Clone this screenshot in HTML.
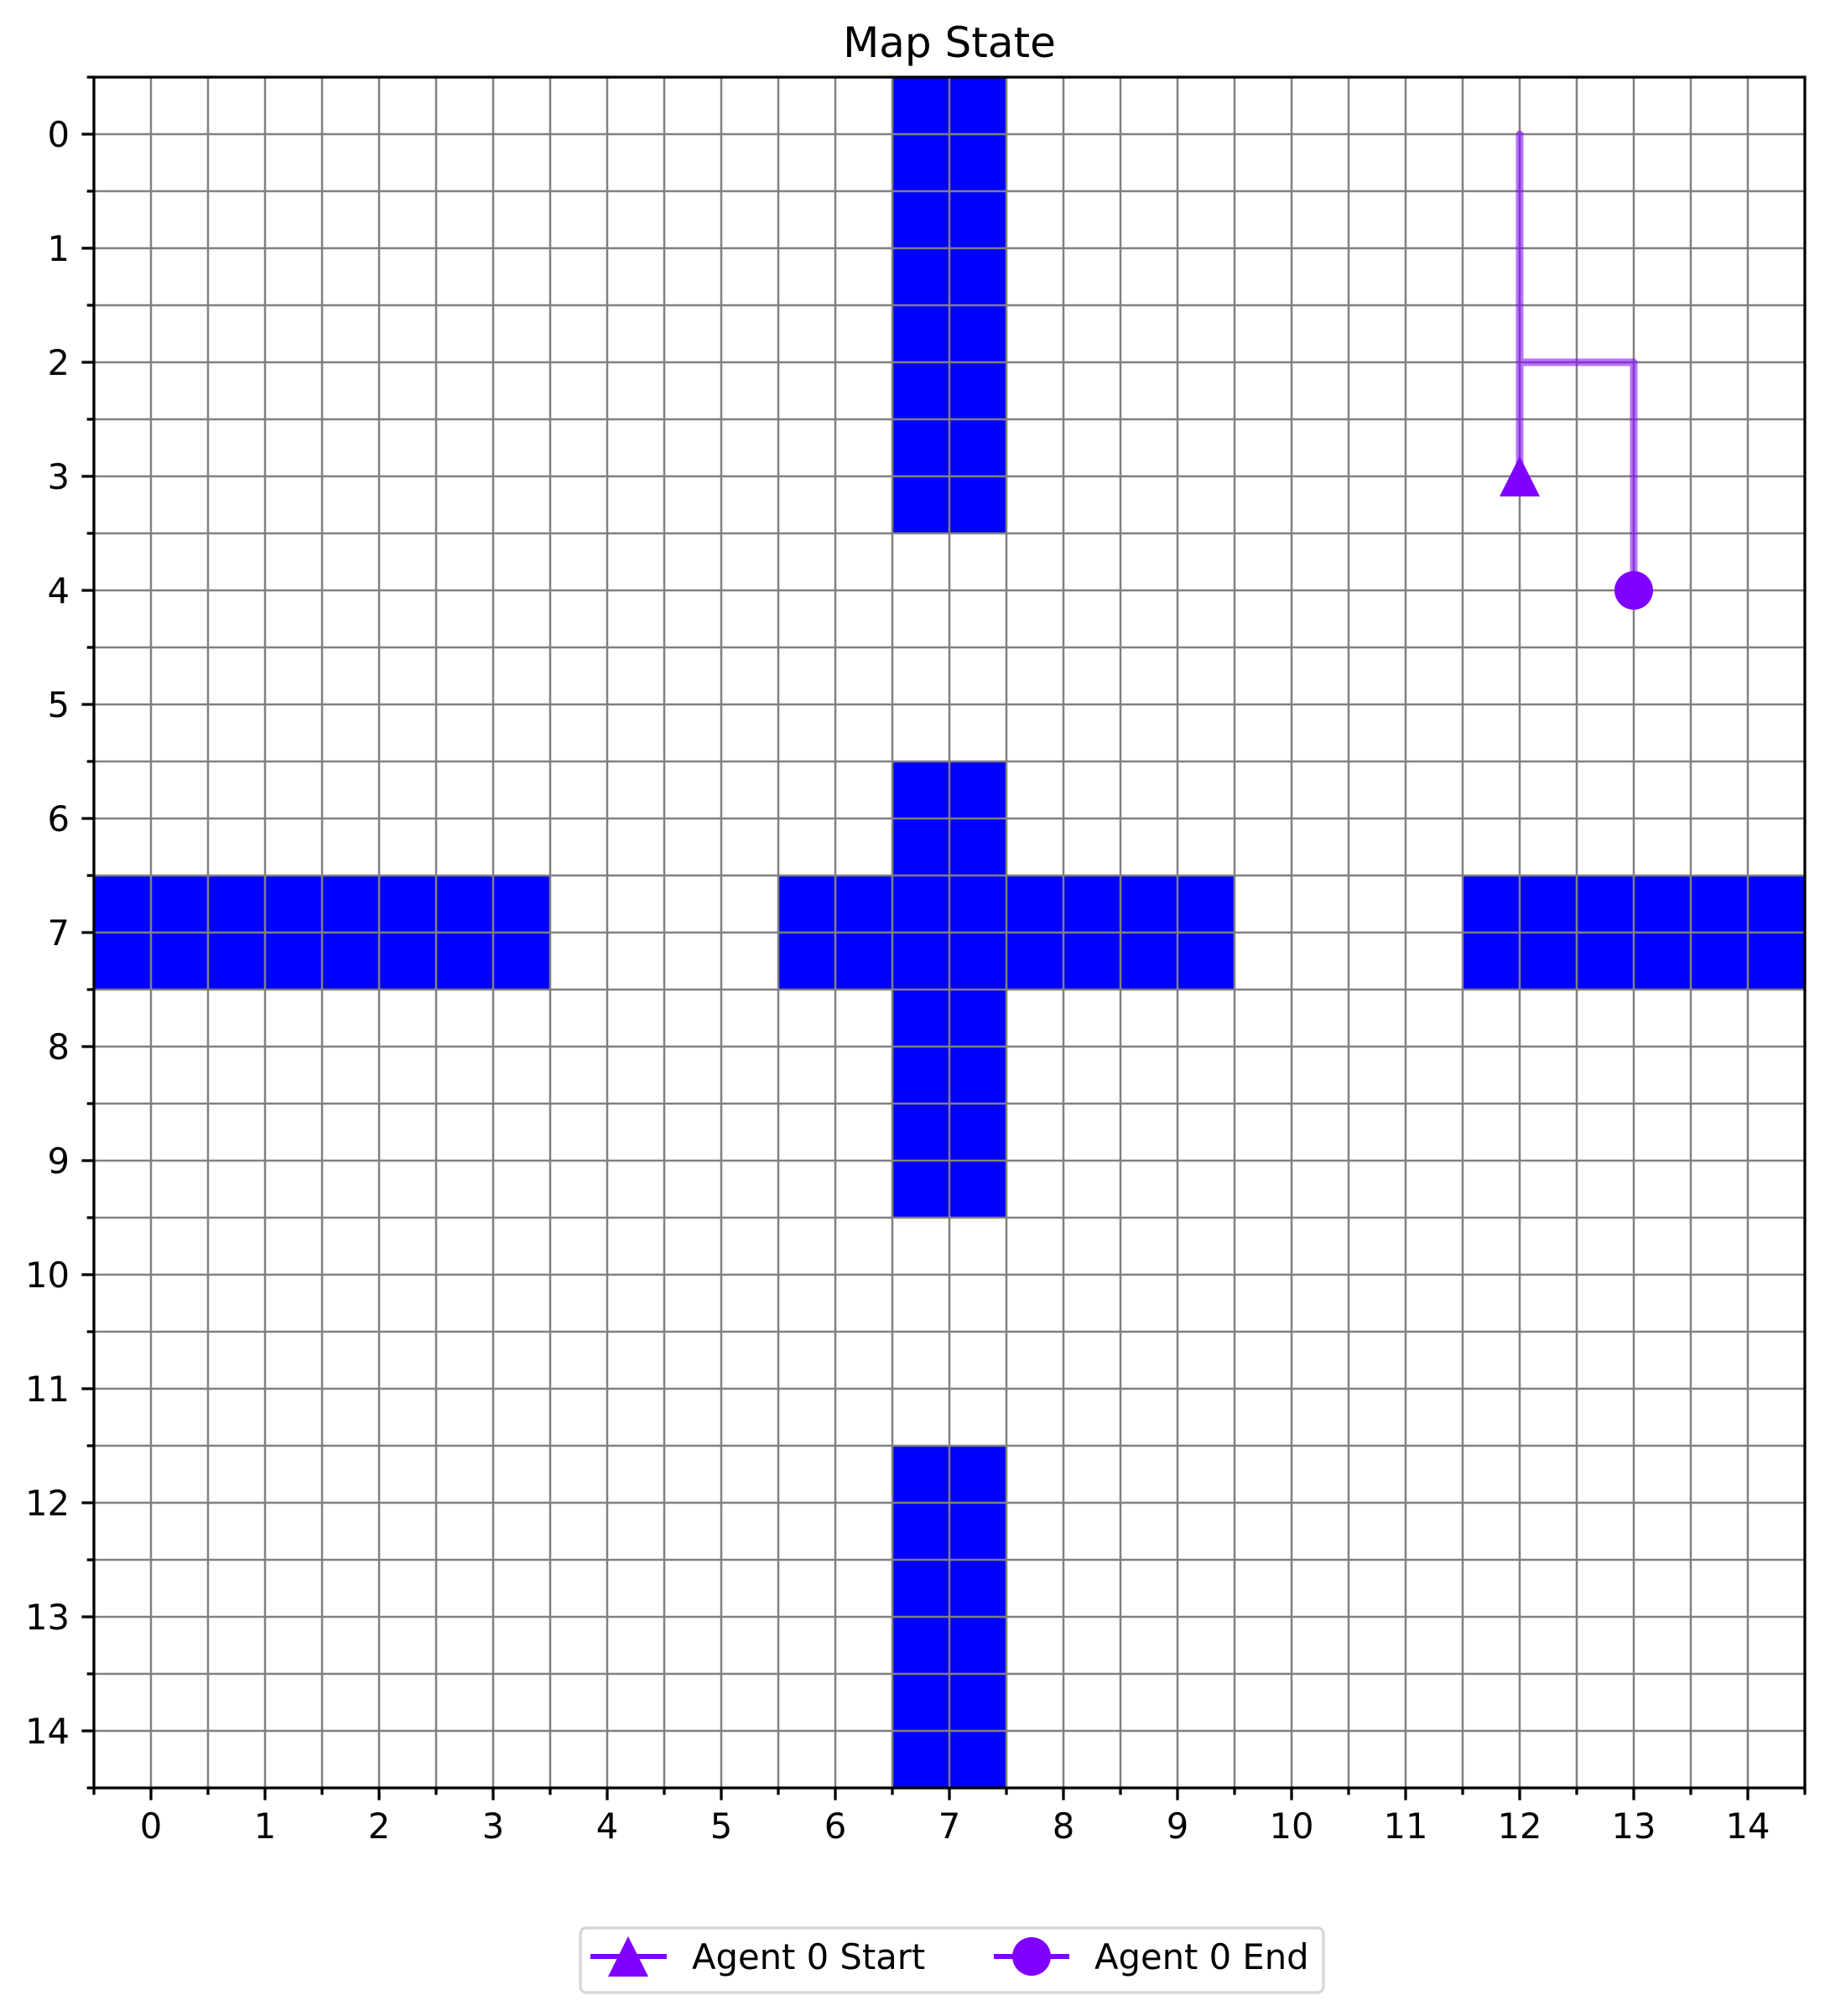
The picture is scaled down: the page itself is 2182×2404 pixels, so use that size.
<!DOCTYPE html>
<html><head><meta charset="utf-8">
<style>
html,body{margin:0;padding:0;background:#fff;}
svg{display:block;font-family:"DejaVu Sans","Liberation Sans",sans-serif;}
</style></head>
<body>
<svg id="chart" width="2182" height="2404" viewBox="0 0 2182 2404" xmlns="http://www.w3.org/2000/svg">
<rect width="2182" height="2404" fill="#fff"/>
<text x="1132" y="68" font-size="50" text-anchor="middle">Map State</text>
<g id="cells"></g>
<g id="grid"></g>
<g id="path"></g>
<g id="ticks"></g>
<rect x="112" y="92" width="2040" height="2040" fill="none" stroke="#000" stroke-width="3.3"/>
<g>
<rect x="692" y="2299" width="886" height="77" rx="7" fill="#fff" stroke="#d6d6d6" stroke-width="3.3"/>
<g>
<line x1="704" y1="2333" x2="795" y2="2333" stroke="#8000ff" stroke-width="6"/>
<polygon points="749,2309 773,2357 725,2357" fill="#8000ff"/>
<text x="825" y="2348" font-size="41.7">Agent 0 Start</text>
</g>
<g>
<line x1="1185" y1="2333" x2="1275" y2="2333" stroke="#8000ff" stroke-width="6"/>
<circle cx="1230" cy="2333" r="23" fill="#8000ff"/>
<text x="1305" y="2348" font-size="41.7">Agent 0 End</text>
</g>
</g>
</svg>
<script>
const obstacleRows = [0,1,2,3,6,7,8,9,12,13,14, 7,7,7,7,7,7,7,7,7,7,7];
const obstacleCols = [7,7,7,7,7,7,7,7,7,7,7, 0,1,2,3,6,8,9,12,13,14,7];
const pathCols = [12,12,12,13,13];
const pathRows = [3,0,2,2,4];
const tickLabels = ["0","1","2","3","4","5","6","7","8","9","10","11","12","13","14"];
const startPt = [12,3];
const endPt = [13,4];

const NS = "http://www.w3.org/2000/svg";
const L = 112, T = 92, U = 136;
function sx(c){ return L + (c + 0.5) * U; }
function sy(r){ return T + (r + 0.5) * U; }
function mk(tag, attrs, parent){ const e = document.createElementNS(NS, tag); for (const k in attrs) e.setAttribute(k, attrs[k]); parent.appendChild(e); return e; }

const cells = document.getElementById('cells');
for (let i = 0; i < obstacleRows.length; i++) {
  const r = mk('rect', {x: sx(obstacleCols[i]) - U/2, y: sy(obstacleRows[i]) - U/2, width: U, height: U, fill: '#0000ff'}, cells);
  
  
}

const grid = document.getElementById('grid');
for (let k = 0; k <= 29; k++) {
  const v = -0.5 + k * 0.5;
  const gx = mk('line', {x1: sx(v), y1: T, x2: sx(v), y2: T + 15*U, stroke: '#808080', 'stroke-width': 2.5}, grid);
  
  
  const gy = mk('line', {x1: L, y1: sy(v), x2: L + 15*U, y2: sy(v), stroke: '#808080', 'stroke-width': 2.5}, grid);
  
  
}

const ticks = document.getElementById('ticks');
for (let k = 0; k <= 30; k++) {
  const v = -0.5 + k * 0.5;
  const major = Number.isInteger(v);
  const len = major ? 14.6 : 8.3;
  mk('line', {x1: sx(v), y1: T + 15*U, x2: sx(v), y2: T + 15*U + len, stroke: '#000', 'stroke-width': 3.3}, ticks);
  mk('line', {x1: L, y1: sy(v), x2: L - len, y2: sy(v), stroke: '#000', 'stroke-width': 3.3}, ticks);
}
for (let i = 0; i < tickLabels.length; i++) {
  const tx = mk('text', {x: sx(i), y: 2192, 'font-size': 41.7, 'text-anchor': 'middle'}, ticks);
  tx.textContent = tickLabels[i];
  
  
  const ty = mk('text', {x: 83, y: sy(i) + 15, 'font-size': 41.7, 'text-anchor': 'end'}, ticks);
  ty.textContent = tickLabels[i];
  
  
}

const pg = document.getElementById('path');
const pts = pathCols.map((c, i) => sx(c) + ',' + sy(pathRows[i])).join(' ');
const pl = mk('polyline', {points: pts, fill: 'none', stroke: '#8000ff', 'stroke-opacity': 0.55, 'stroke-width': 9, 'stroke-linecap': 'round', 'stroke-linejoin': 'round'}, pg);


const tri = mk('polygon', {points: `${sx(startPt[0])},${sy(startPt[1])-24} ${sx(startPt[0])+24},${sy(startPt[1])+24} ${sx(startPt[0])-24},${sy(startPt[1])+24}`, fill: '#8000ff'}, pg);


const cir = mk('circle', {cx: sx(endPt[0]), cy: sy(endPt[1]), r: 23, fill: '#8000ff'}, pg);


</script>
</body></html>
